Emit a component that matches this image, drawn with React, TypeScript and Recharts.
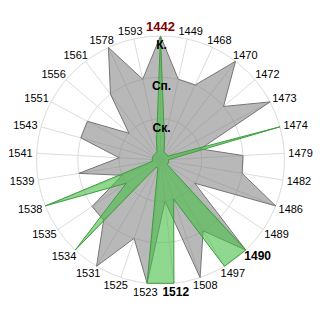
import React from 'react';
import { RadarChart, Radar, PolarGrid, PolarAngleAxis, PolarRadiusAxis } from 'recharts';

const years = ['1442', '1449', '1468', '1470', '1472', '1473', '1474', '1479', '1482', '1486', '1489', '1490', '1497', '1508', '1512', '1523', '1525', '1531', '1534', '1535', '1538', '1539', '1541', '1543', '1551', '1556', '1561', '1578', '1593'];
const grayValues = [3, 2, 2, 3, 2, 3, 1, 2, 2, 3, 1, 3, 2, 3, 1, 3, 2, 3, 2, 2, 1, 2, 1, 2, 2, 1, 2, 3, 2];
const greenValues = [3, 0.45, 0.2, 0.2, 0.2, 0.2, 3, 0.2, 0.2, 0.2, 0.2, 3, 3, 1, 3, 3, 0.2, 0.2, 3, 1, 3, 0.2, 0.2, 0.2, 0.2, 0.2, 0.2, 0.2, 0.45];
const levelLabels = ['', 'Ск.', 'Сп.', 'К.'];
const boldYears = ['1490', '1512'];
const highlightYear = '1442';

const data = years.map((y, i) => ({ year: y, gray: grayValues[i], green: greenValues[i] }));

const CX = 160.5;
const CY = 160;
const FONT = "'Liberation Sans', Arial, sans-serif";

function AngleTick(props: any) {
  const { x, y, payload } = props;
  const label = String(payload.value);
  const isHi = label === highlightYear;
  const isBold = isHi || boldYears.includes(label);
  const fs = isHi ? 13 : isBold ? 12 : 11;
  const cx = typeof props.cx === 'number' ? props.cx : CX;
  const cy = typeof props.cy === 'number' ? props.cy : CY;
  const dx = x - cx;
  const dy = y - cy;
  const len = Math.hypot(dx, dy) || 1;
  const s = dx / len;
  const c = -dy / len;
  const w = label.length * 0.556 * fs;
  const h = fs * 0.8;
  const tx = x + (s * w) / 2;
  const ty = y - (c * h) / 2;
  return (
    <text
      x={tx}
      y={ty}
      textAnchor="middle"
      dominantBaseline="central"
      fontSize={fs}
      fontWeight={isBold ? 'bold' : 'normal'}
      fill={isHi ? '#800000' : '#000000'}
      fontFamily={FONT}
    >
      {label}
    </text>
  );
}

function RadiusTick(props: any) {
  const { x, y, payload } = props;
  const t = levelLabels[Math.round(Number(payload.value))];
  if (!t) return <g />;
  return (
    <text
      x={x + 1}
      y={y + 9}
      textAnchor="middle"
      dominantBaseline="central"
      fontSize={12}
      fontWeight="bold"
      fill="#000000"
      fontFamily={FONT}
    >
      {t}
    </text>
  );
}

export default function App() {
  return (
    <div style={{ position: 'absolute', left: 0, top: 0, width: 320, height: 320, background: '#ffffff' }}>
      <RadarChart
        width={320}
        height={320}
        data={data}
        cx={CX}
        cy={CY}
        outerRadius={124}
        margin={{ top: 0, right: 0, bottom: 0, left: 0 }}
      >
        <PolarGrid gridType="circle" stroke="#dcdcdc" />
        <PolarAngleAxis dataKey="year" tick={AngleTick} tickSize={4} tickLine={false} axisLine={false} />
        <Radar
          dataKey="gray"
          stroke="#767676"
          strokeWidth={1}
          fill="#808080"
          fillOpacity={0.56}
          isAnimationActive={false}
        />
        <Radar
          dataKey="green"
          stroke="#3d9e3d"
          strokeWidth={1}
          fill="#46be46"
          fillOpacity={0.6}
          isAnimationActive={false}
        />
        <PolarRadiusAxis
          angle={90}
          domain={[0, 3]}
          tickCount={4}
          axisLine={false}
          tickLine={false}
          tick={RadiusTick}
        />
      </RadarChart>
    </div>
  );
}
